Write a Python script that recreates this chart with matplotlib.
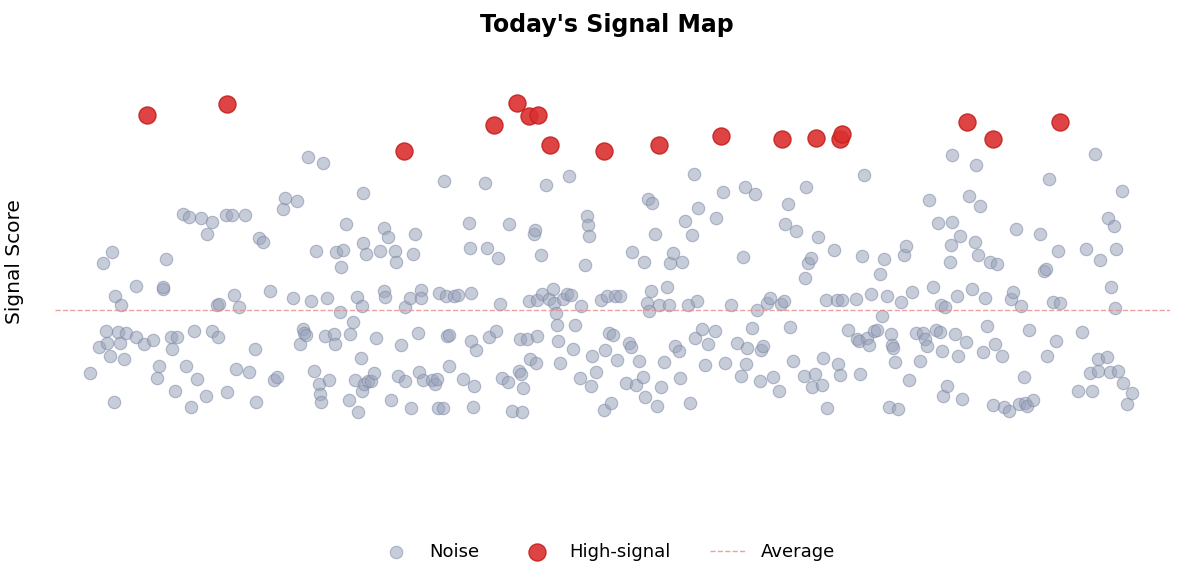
import matplotlib.pyplot as plt
import numpy as np

# readings: x = time slot, y = raw reading (lower reading = higher score)
noise_x = [90,99,103,106,107,110,112,114,115,118,120,121,124,126,136,136,144,153,157,159,163,163,166,171,172,175,177,183,186,189,191,194,197,201,206,207,212,212,217,218,219,226,227,232,234,236,239,245,249,255,256,259,263,270,274,277,283,285,293,297,300,303,304,306,308,311,314,316,319,320,321,323,325,327,329,334,335,336,340,341,343,346,349,350,353,355,357,358,361,362,362,363,363,364,366,368,371,374,376,380,384,384,385,388,391,395,396,398,401,405,405,410,411,413,415,418,419,421,421,423,432,435,437,438,439,443,444,446,447,449,449,454,458,463,469,470,471,471,473,474,476,485,487,489,496,498,500,502,508,509,512,519,520,521,522,523,527,529,530,534,535,536,537,537,541,542,546,549,553,554,556,557,558,560,563,567,569,571,573,575,580,581,585,587,588,589,591,592,596,601,604,605,607,609,611,613,615,617,620,626,629,631,632,636,639,643,644,645,647,648,649,651,652,655,657,659,661,664,667,669,670,673,675,679,680,682,685,688,690,692,694,695,697,698,702,705,708,715,716,723,725,731,737,741,743,745,746,747,752,755,757,760,761,763,767,770,773,779,781,784,785,788,790,793,796,804,805,806,808,811,812,815,818,822,823,826,827,834,837,838,840,842,848,856,857,859,860,862,864,867,869,871,874,877,880,882,884,887,889,891,892,893,895,898,901,904,906,909,912,916,920,923,925,927,929,933,936,938,940,941,942,943,945,947,950,951,952,952,955,957,958,960,962,966,969,972,975,976,978,980,983,985,987,990,993,995,997,1002,1004,1009,1011,1013,1016,1019,1021,1024,1025,1027,1029,1033,1040,1044,1046,1047,1049,1053,1056,1058,1060,1078,1082,1086,1090,1092,1095,1098,1098,1100,1107,1108,1110,1111,1114,1115,1116,1118,1122,1123,1127,1132]
noise_r = [373,347,263,331,343,356,252,402,296,332,343,305,359,333,286,337,344,340,378,366,289,287,259,337,349,391,337,214,366,217,407,331,379,218,396,234,222,331,305,337,304,215,392,215,295,369,307,215,372,349,402,238,242,291,380,377,209,198,298,201,344,329,333,335,157,301,371,251,384,394,402,163,336,298,380,334,344,252,312,267,250,224,400,334,322,380,297,412,358,306,391,193,243,384,254,381,381,373,338,251,228,291,297,237,400,251,262,376,345,307,381,298,408,254,234,333,372,290,298,380,380,384,379,408,293,408,181,296,336,335,366,296,295,379,223,248,293,341,407,386,350,183,248,337,331,258,304,378,382,224,411,371,339,374,412,388,339,301,359,234,230,363,336,300,255,294,185,299,289,303,313,325,341,363,299,294,176,295,349,325,378,306,265,216,225,236,386,356,372,300,410,350,296,333,403,335,296,360,296,383,343,347,252,385,361,377,262,397,303,199,311,291,203,234,406,305,387,362,287,305,263,253,346,351,378,262,221,305,403,235,174,338,301,208,329,365,344,331,218,192,363,305,343,376,257,187,364,348,328,194,310,381,350,346,303,298,377,391,304,301,224,204,327,361,231,376,278,187,263,258,387,374,237,385,358,300,408,250,300,364,375,300,330,299,339,341,374,256,175,338,345,294,331,330,274,316,259,296,407,334,345,348,362,409,302,255,246,380,292,333,361,333,339,346,200,287,330,223,332,305,351,396,307,386,262,245,155,222,334,296,356,236,399,342,196,289,242,165,255,206,352,298,326,262,405,344,264,356,407,411,299,292,229,404,306,377,403,406,330,400,234,271,269,356,179,302,341,251,303,391,332,249,373,391,154,371,359,260,357,218,372,287,226,308,249,371,191,383,404,393]
high_x = [147,227,404,494,517,529,538,550,604,659,721,782,816,840,842,967,993,1060]
high_r = [115,104,151,125,103,116,115,145,151,145,136,139,138,139,134,122,139,122]

noise_s = (500 - np.array(noise_r)) / 10
high_s = (500 - np.array(high_r)) / 10
avg = np.mean(np.concatenate([noise_s, high_s]))

fig = plt.figure(figsize=(11.85, 5.84), dpi=100)
ax = fig.add_axes([55/1185, 54/584, 1115/1185, 480/584])
ax.scatter(noise_x, noise_s, s=80, color='#9aa3bb', alpha=0.55, edgecolor='#7d87a3', linewidth=0.8, label='Noise')
ax.scatter(high_x, high_s, s=150, color='#dc2f2f', alpha=0.9, edgecolor='#c42020', linewidth=1, label='High-signal')
ax.axhline(avg - 0.5, color='#e88a8a', linestyle='--', linewidth=1, alpha=0.8, label='Average')
ax.set_xlim(55, 1170)
ax.set_ylim(-3, 45)
ax.set_xticks([])
ax.set_yticks([])
for s in ax.spines.values():
    s.set_visible(False)
ax.set_ylabel('Signal Score', fontsize=14.5, labelpad=12)
ax.yaxis.set_label_coords(-0.028, 0.56)
fig.text(0.512, 0.957, "Today's Signal Map", ha='center', va='center', fontsize=17, fontweight='bold')
fig.legend(loc='center', bbox_to_anchor=(0.512, 0.055), ncol=3, frameon=False, fontsize=13, columnspacing=2.2)
fig.savefig('out.png', dpi=100)
